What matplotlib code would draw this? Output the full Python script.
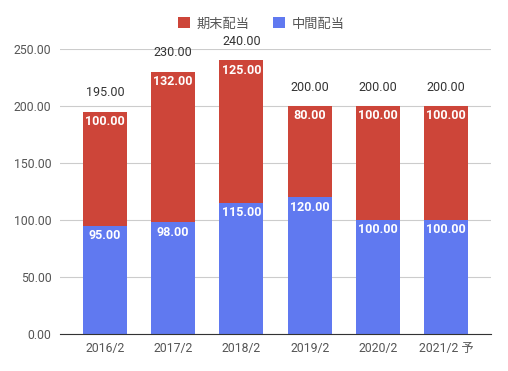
import matplotlib.pyplot as plt
import numpy as np

plt.rcParams['font.family'] = ['Roboto', 'Noto Sans CJK JP', 'DejaVu Sans']

years = ['2016/2', '2017/2', '2018/2', '2019/2', '2020/2', '2021/2 予']
interim = [95, 98, 115, 120, 100, 100]   # 中間配当
final = [100, 132, 125, 80, 100, 100]    # 期末配当
totals = [a + b for a, b in zip(interim, final)]

c_blue = '#6079f0'
c_red = '#cd4539'

fig = plt.figure(figsize=(5.08, 3.71), dpi=100)
ax = fig.add_axes([0.118, 0.0997, 0.849, 0.768])

x = np.arange(len(years))
w = 0.645
b1 = ax.bar(x, interim, w, color=c_blue, label='中間配当', zorder=2)
b2 = ax.bar(x, final, w, bottom=interim, color=c_red, label='期末配当', zorder=2)

for i in range(len(years)):
    ax.text(x[i], interim[i] - 3, '%.2f' % interim[i], ha='center', va='top',
            color='white', fontsize=9, fontweight='bold', zorder=3)
    ax.text(x[i], totals[i] - 3, '%.2f' % final[i], ha='center', va='top',
            color='white', fontsize=9, fontweight='bold', zorder=3)
    ax.text(x[i], totals[i] + 11, '%.2f' % totals[i], ha='center', va='bottom',
            color='#333333', fontsize=9, zorder=3)

ax.set_xlim(-0.66, 5.66)
ax.set_ylim(0, 250)
ax.set_yticks(np.arange(0, 251, 50))
ax.set_yticklabels(['%.2f' % v for v in np.arange(0, 251, 50)])
ax.set_xticks(x)
ax.set_xticklabels(years)
ax.tick_params(length=0, labelsize=8.8, colors='#555555', pad=6)
ax.grid(axis='y', color='#cccccc', linewidth=0.8, zorder=0)
for s in ['top', 'right', 'left']:
    ax.spines[s].set_visible(False)
ax.spines['bottom'].set_color('#333333')
ax.spines['bottom'].set_zorder(3)

ax.legend(handles=[b2, b1], loc='center', bbox_to_anchor=(0.467, 1.088),
          ncol=2, frameon=False, fontsize=9.5, handlelength=0.9, handleheight=0.9,
          columnspacing=1.8, handletextpad=0.5, labelcolor='#555555')

fig.savefig('out.png', dpi=100)
